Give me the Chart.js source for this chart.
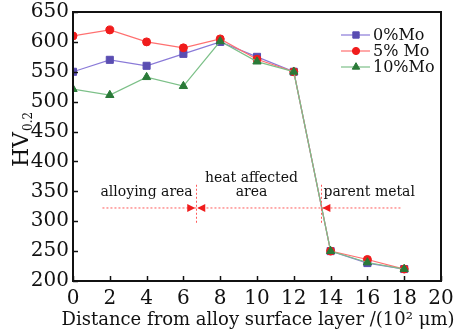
<!DOCTYPE html>
<html><head><meta charset="utf-8">
<script src="https://cdn.jsdelivr.net/npm/chart.js@4.4.1/dist/chart.umd.min.js"></script>
<style>html,body{margin:0;padding:0;background:#fff}#wrap{width:456px;height:333px}</style>
</head><body><div id="wrap"><canvas id="c" width="456" height="333"></canvas></div>
<script>
// ---- data ----
const distance = [0, 2, 4, 6, 8, 10, 12, 14, 16, 18];
const mo0  = [550, 570, 560, 580, 600, 575, 550, 250, 230, 220];
const mo5  = [610, 620, 600, 590, 605, 571, 550, 250, 236, 220];
const mo10 = [521, 511, 541, 526, 601, 567, 550, 250, 231, 220];
const seriesLabels = ['0%Mo', '5% Mo', '10%Mo'];
const xTickValues = [0, 2, 4, 6, 8, 10, 12, 14, 16, 18, 20];
const yTickValues = [200, 250, 300, 350, 400, 450, 500, 550, 600, 650];
const xTitle = 'Distance from alloy surface layer /(10\u00B2 \u03BCm)';
const yTitleMain = 'HV';
const yTitleSub = '0.2';
const zoneTexts = ['alloying area', 'heat affected', 'area', 'parent metal'];

// annotation geometry in data units
const annot = {
  lineY: 323, lineX0: 1.6, lineX1: 17.9,
  bound1: 6.7, bound2: 13.5, vTop: 361, vBottom: 297,
  texts: [
    {t: 0, x: 4.0, y: 342},
    {t: 1, x: 9.7, y: 365},
    {t: 2, x: 9.7, y: 342},
    {t: 3, x: 16.1, y: 342}
  ]
};

const SERIF = '"DejaVu Serif", serif';
const colors = {
  line: ['#8a7ad8', '#ff7070', '#7cc088'],
  mark: ['#5a4db2', '#f01c1c', '#2a7a38']
};
const mk = (d) => d.map((v, i) => ({x: distance[i], y: v}));

const datasets = [
  {label: seriesLabels[0], data: mk(mo0), borderColor: colors.line[0], backgroundColor: colors.mark[0],
   pointBackgroundColor: colors.mark[0], pointBorderColor: colors.mark[0], pointStyle: 'rect', pointRadius: 5, order: 3},
  {label: seriesLabels[1], data: mk(mo5), borderColor: colors.line[1], backgroundColor: colors.mark[1],
   pointBackgroundColor: colors.mark[1], pointBorderColor: colors.mark[1], pointStyle: 'circle', pointRadius: 4, order: 2},
  {label: seriesLabels[2], data: mk(mo10), borderColor: colors.line[2], backgroundColor: colors.mark[2],
   pointBackgroundColor: colors.mark[2], pointBorderColor: colors.mark[2], pointStyle: 'triangle', pointRadius: 4.8, order: 1}
];
datasets.forEach(d => { d.borderWidth = 1.2; d.pointBorderWidth = 1; d.tension = 0; d.fill = false; });

const decor = {
  id: 'decor',
  afterDraw(chart) {
    const {ctx, chartArea: a, scales: {x, y}} = chart;
    ctx.save();
    // inward ticks
    ctx.strokeStyle = '#111'; ctx.lineWidth = 1.5;
    x.ticks.forEach(t => { const px = Math.round(x.getPixelForValue(t.value)) + 0.5;
      ctx.beginPath(); ctx.moveTo(px, a.bottom); ctx.lineTo(px, a.bottom - 5); ctx.stroke(); });
    y.ticks.forEach(t => { const py = Math.round(y.getPixelForValue(t.value)) + 0.5;
      ctx.beginPath(); ctx.moveTo(a.left, py); ctx.lineTo(a.left + 5, py); ctx.stroke(); });
    // frame
    ctx.lineWidth = 2; ctx.strokeStyle = '#111';
    ctx.strokeRect(a.left, a.top, a.right - a.left, a.bottom - a.top);

    // annotations
    const ly = y.getPixelForValue(annot.lineY);
    ctx.strokeStyle = '#ff5a5a'; ctx.lineWidth = 1; ctx.setLineDash([2, 2]);
    ctx.beginPath(); ctx.moveTo(x.getPixelForValue(annot.lineX0), ly + 0.5); ctx.lineTo(x.getPixelForValue(annot.lineX1), ly + 0.5); ctx.stroke();
    [annot.bound1, annot.bound2].forEach(b => { const bx = Math.round(x.getPixelForValue(b)) + 0.5;
      ctx.beginPath(); ctx.moveTo(bx, y.getPixelForValue(annot.vTop)); ctx.lineTo(bx, y.getPixelForValue(annot.vBottom)); ctx.stroke(); });
    ctx.setLineDash([]);
    ctx.fillStyle = '#f01c1c';
    const tri = (tipX, dir) => { ctx.beginPath(); ctx.moveTo(tipX, ly + 0.5); ctx.lineTo(tipX - dir * 8, ly - 3.5); ctx.lineTo(tipX - dir * 8, ly + 4.5); ctx.closePath(); ctx.fill(); };
    const b1 = x.getPixelForValue(annot.bound1), b2 = x.getPixelForValue(annot.bound2);
    tri(b1 - 1, 1); tri(b1 + 1, -1); tri(b2 + 1, -1);
    ctx.fillStyle = '#111'; ctx.font = '14px ' + SERIF; ctx.textAlign = 'center'; ctx.textBaseline = 'alphabetic';
    annot.texts.forEach(o => ctx.fillText(zoneTexts[o.t], x.getPixelForValue(o.x), y.getPixelForValue(o.y)));

    // legend
    chart.data.datasets.forEach((d, i) => {
      const yy = a.top + 23 + i * 16;
      ctx.strokeStyle = d.borderColor; ctx.lineWidth = 1.2;
      ctx.beginPath(); ctx.moveTo(341, yy); ctx.lineTo(370, yy); ctx.stroke();
      ctx.fillStyle = d.pointBackgroundColor; ctx.strokeStyle = d.pointBorderColor; ctx.lineWidth = 1;
      Chart.helpers.drawPoint(ctx, {pointStyle: d.pointStyle, radius: d.pointRadius * 0.9, rotation: 0, borderWidth: 1}, 356, yy);
      ctx.fillStyle = '#111'; ctx.font = '16px ' + SERIF; ctx.textAlign = 'left'; ctx.textBaseline = 'middle';
      ctx.fillText(d.label, 373, yy + 1);
    });

    // x title (drawn wider than the plot area, as in the reference)
    ctx.fillStyle = '#111'; ctx.font = '18px ' + SERIF; ctx.textAlign = 'center'; ctx.textBaseline = 'alphabetic';
    ctx.fillText(xTitle, 258, 325);

    // y title with subscript
    ctx.translate(20, 140); ctx.rotate(-Math.PI / 2);
    ctx.font = '22px ' + SERIF; ctx.textBaseline = 'alphabetic'; ctx.textAlign = 'left';
    const wMain = ctx.measureText(yTitleMain).width;
    ctx.font = '12px ' + SERIF; const wSub = ctx.measureText(yTitleSub).width;
    const start = -(wMain + wSub) / 2;
    ctx.font = '22px ' + SERIF; ctx.fillText(yTitleMain, start, 8);
    ctx.font = '12px ' + SERIF; ctx.fillText(yTitleSub, start + wMain + 1, 12);
    ctx.restore();
  }
};

new Chart(document.getElementById('c'), {
  type: 'line',
  data: {datasets},
  options: {
    responsive: false, animation: false, devicePixelRatio: 1,
    layout: {padding: {left: 0, right: 15, top: 12, bottom: 0}},
    plugins: {legend: {display: false}, tooltip: {enabled: false}},
    scales: {
      x: {type: 'linear', min: 0, max: 20,
        afterBuildTicks: s => { s.ticks = xTickValues.map(v => ({value: v})); },
        afterFit: s => { s.height = 52; s.paddingRight = 0; s.paddingLeft = 0; },
        grid: {display: false, drawTicks: false}, border: {display: false},
        ticks: {color: '#111', font: {family: SERIF, size: 20}, padding: 6, maxRotation: 0, autoSkip: false},
        title: {display: false}
      },
      y: {type: 'linear', min: 200, max: 650,
        afterBuildTicks: s => { s.ticks = yTickValues.map(v => ({value: v})); },
        afterFit: s => { s.width = 73; s.paddingTop = 0; s.paddingBottom = 0; },
        grid: {display: false, drawTicks: false}, border: {display: false},
        ticks: {color: '#111', font: {family: SERIF, size: 20}, padding: 4, autoSkip: false}
      }
    }
  },
  plugins: [decor]
});
</script></body></html>
